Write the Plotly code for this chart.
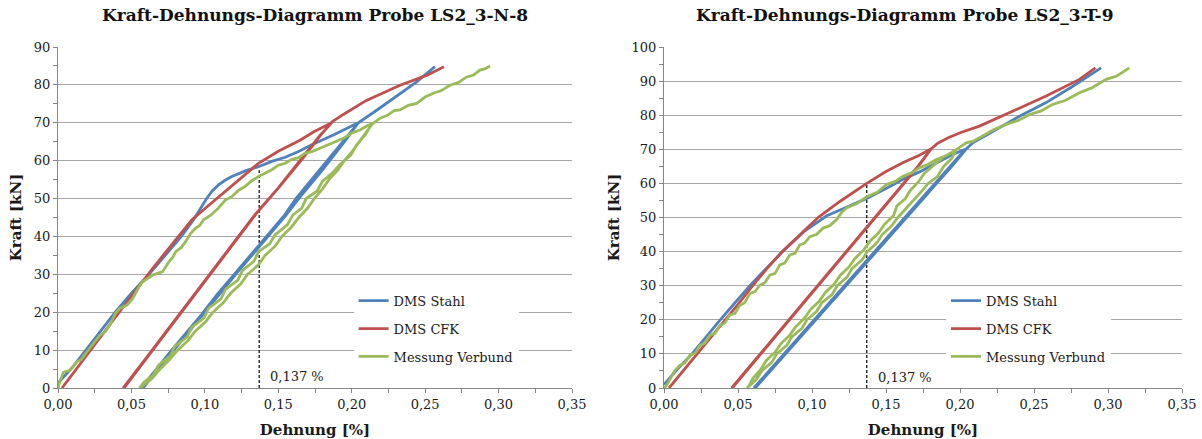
import plotly.graph_objects as go

# ---------------- Probe LS2_3-N-8 ----------------
# each series: first loading, unloading, reloading and further loading
n8_stahl_x = [0.000, 0.010, 0.019, 0.029, 0.039, 0.050, 0.062, 0.073, 0.084, 0.0923, 0.097, 0.101, 0.105,
              0.1093, 0.114, 0.1184, 0.1275, 0.1365, 0.1456, 0.1547, 0.1638, 0.1728, 0.1875, 0.2045,
              0.194, 0.178, 0.162, 0.1544, 0.141, 0.130, 0.120, 0.108, 0.098, 0.087, 0.077, 0.067, 0.0566,
              0.0585, 0.069, 0.079, 0.089, 0.100, 0.110, 0.121, 0.132, 0.143, 0.155, 0.165, 0.180, 0.196,
              0.2045, 0.217, 0.2329, 0.2442, 0.2567]
n8_stahl_y = [1.3, 5.5, 10.0, 15.0, 20.0, 25.0, 30.0, 35.0, 40.0, 44.4, 47.4, 49.9, 52.0,
              53.6, 54.9, 55.8, 57.3, 58.4, 59.8, 60.9, 62.4, 64.2, 66.8, 70.0,
              65.0, 57.5, 50.0, 45.7, 39.5, 34.5, 30.0, 24.5, 19.5, 14.5, 9.8, 5.0, 0.0,
              0.3, 5.3, 10.0, 15.0, 20.0, 25.0, 30.0, 35.0, 40.0, 45.5, 50.5, 57.5, 65.5,
              70.0, 73.3, 77.7, 80.8, 84.8]

n8_cfk_x = [0.0027, 0.011, 0.0196, 0.031, 0.042, 0.053, 0.0645, 0.0735, 0.0825, 0.0912, 0.1005, 0.108,
            0.1185, 0.128, 0.1365, 0.150, 0.1648, 0.1745, 0.1864,
            0.178, 0.165, 0.150, 0.134, 0.120, 0.105, 0.090, 0.075, 0.060, 0.0443,
            0.0455, 0.061, 0.076, 0.091, 0.106, 0.121, 0.135, 0.151, 0.166, 0.179, 0.1864,
            0.1943, 0.210, 0.2329, 0.251, 0.2628]
n8_cfk_y = [0.0, 4.3, 8.6, 14.5, 20.1, 25.8, 31.6, 36.0, 40.4, 44.4, 47.5, 50.0,
            53.5, 56.5, 59.3, 62.5, 65.4, 67.7, 70.0,
            66.5, 60.0, 52.8, 45.7, 38.5, 30.8, 23.2, 15.5, 7.9, 0.0,
            0.3, 8.2, 15.8, 23.5, 31.0, 38.8, 46.0, 53.2, 60.3, 66.8, 70.2,
            72.2, 75.9, 79.9, 82.5, 84.8]

n8_verbund_x = [0.000, 0.0015, 0.0038, 0.008, 0.0128, 0.016, 0.0196, 0.024, 0.0285, 0.032, 0.0353, 0.039,
                0.042, 0.047, 0.051, 0.055, 0.0578, 0.0645, 0.0712, 0.0757, 0.078, 0.0802, 0.084, 0.087,
                0.090, 0.0937, 0.0965, 0.0991, 0.104, 0.1093, 0.114, 0.1184, 0.123, 0.1275, 0.132, 0.1365,
                0.141, 0.1456, 0.150, 0.1547, 0.159, 0.1638, 0.168, 0.1728, 0.178, 0.186, 0.1943, 0.200,
                0.2056, 0.210, 0.2136,
                0.2095, 0.2030, 0.1995, 0.1920, 0.1875, 0.1800, 0.1765, 0.1690, 0.1660, 0.1600, 0.1560,
                0.1480, 0.1440, 0.1365, 0.1335, 0.1255, 0.1225, 0.1140, 0.1110, 0.1025, 0.0995, 0.0910,
                0.0880, 0.0795, 0.0765, 0.0685, 0.0650, 0.0585, 0.0555,
                0.0565, 0.0640, 0.0695, 0.0760, 0.0815, 0.0885, 0.0935, 0.1005, 0.1055, 0.1125, 0.1175,
                0.1245, 0.1290, 0.1365, 0.1410, 0.1480, 0.1525, 0.1590, 0.1640, 0.1700, 0.1745, 0.1800,
                0.1845, 0.1905, 0.1950, 0.2005, 0.2050, 0.2100, 0.2140,
                0.2193, 0.2240, 0.2290, 0.2329, 0.2385, 0.2442, 0.2500, 0.2556, 0.2610, 0.2669, 0.2725,
                0.2783, 0.2830, 0.2873, 0.2910, 0.2942]
n8_verbund_y = [0.0, 2.0, 4.2, 4.6, 6.9, 7.6, 9.5, 11.6, 13.9, 14.8, 16.6, 19.6,
                21.0, 21.9, 23.7, 26.6, 28.1, 29.8, 30.7, 33.4, 34.4, 36.0, 37.1, 38.7,
                40.6, 42.2, 42.9, 44.4, 45.6, 47.5, 49.6, 50.5, 52.2, 53.2, 54.7, 55.8,
                56.6, 57.6, 58.8, 59.3, 60.3, 60.8, 61.9, 62.4, 63.2, 64.6, 65.9, 67.3,
                68.1, 69.1, 69.7,
                67.0, 64.0, 61.5, 59.0, 57.0, 54.5, 52.0, 50.0, 47.5, 45.7, 43.0,
                40.5, 38.0, 36.0, 33.5, 31.0, 28.5, 26.0, 23.5, 21.0, 18.5, 16.0,
                13.5, 11.0, 8.5, 6.0, 3.5, 1.5, 0.0,
                0.2, 2.5, 5.0, 7.5, 10.0, 12.5, 15.0, 17.5, 20.0, 22.5, 25.0,
                27.5, 30.0, 32.5, 35.0, 37.5, 40.0, 42.5, 45.0, 47.5, 50.0, 52.5,
                55.0, 57.5, 60.0, 62.5, 65.0, 67.5, 69.7,
                71.2, 71.9, 73.2, 73.4, 74.6, 75.1, 76.8, 77.8, 78.5, 79.9, 80.6,
                82.1, 82.6, 83.9, 84.3, 85.0]

# ---------------- Probe LS2_3-T-9 ----------------
t9_stahl_x = [0.000, 0.009, 0.019, 0.028, 0.038, 0.048, 0.058, 0.069, 0.080, 0.095, 0.110, 0.1233,
              0.137, 0.1503, 0.1615, 0.1723, 0.1862, 0.1950, 0.2036,
              0.193, 0.183, 0.173, 0.1627, 0.1525, 0.1423, 0.132, 0.122, 0.1117, 0.1015, 0.0913,
              0.081, 0.0709, 0.0607,
              0.0622, 0.0724, 0.0826, 0.0928, 0.1030, 0.1132, 0.1235, 0.1335, 0.1438, 0.1540, 0.1642,
              0.1745, 0.1845, 0.1945, 0.2040,
              0.2087, 0.2245, 0.2402, 0.2582, 0.2762, 0.2953]
t9_stahl_y = [1.0, 5.5, 10.0, 14.8, 20.0, 25.0, 30.0, 35.0, 40.0, 46.0, 50.5, 53.0,
              55.6, 58.6, 61.2, 63.3, 66.6, 68.5, 70.0,
              64.8, 60.0, 55.0, 50.0, 45.0, 40.0, 35.0, 30.0, 25.0, 20.0, 15.0,
              10.0, 5.0, 0.0,
              0.3, 5.2, 10.2, 15.2, 20.2, 25.2, 30.2, 35.2, 40.2, 45.2, 50.2,
              55.2, 60.2, 65.0, 70.0,
              71.9, 75.8, 79.7, 83.7, 88.5, 93.9]

t9_cfk_x = [0.0034, 0.012, 0.0215, 0.031, 0.0405, 0.050, 0.059, 0.0695, 0.080, 0.092, 0.1041, 0.1188,
            0.1323, 0.137, 0.150, 0.162, 0.1723, 0.1806,
            0.1715, 0.1618, 0.152, 0.1423, 0.1326, 0.1229, 0.1132, 0.1035, 0.0938, 0.0841, 0.0745,
            0.0648, 0.0551, 0.0457,
            0.0467, 0.0562, 0.0658, 0.0755, 0.0852, 0.0948, 0.1045, 0.1142, 0.1238, 0.1335, 0.1432,
            0.1530, 0.1626, 0.1722, 0.1806,
            0.1850, 0.1920, 0.2010, 0.2132, 0.2357, 0.2582, 0.2807, 0.2915]
t9_cfk_y = [0.0, 4.5, 9.5, 14.5, 19.5, 24.5, 29.5, 35.0, 40.0, 45.0, 50.0, 54.7,
            58.7, 60.0, 63.5, 66.2, 68.2, 70.2,
            65.0, 60.0, 55.0, 50.0, 45.0, 40.0, 35.0, 30.0, 25.0, 20.0, 15.0,
            10.0, 5.0, 0.0,
            0.3, 5.2, 10.2, 15.2, 20.2, 25.2, 30.2, 35.2, 40.2, 45.2, 50.2,
            55.2, 60.2, 65.2, 70.2,
            71.8, 73.4, 75.0, 76.8, 81.2, 85.6, 90.5, 93.9]

t9_verbund_x = [0.000, 0.0018, 0.0074, 0.0108, 0.0140, 0.0175, 0.0210, 0.0243, 0.0275, 0.031, 0.0345,
                0.0378, 0.0410, 0.0445, 0.0480, 0.0513, 0.0545, 0.058, 0.0615, 0.0648, 0.0680, 0.0715,
                0.0750, 0.0783, 0.0815, 0.085, 0.0885, 0.0918, 0.0950, 0.0985, 0.1030, 0.1075, 0.1120,
                0.1165, 0.1200, 0.1233, 0.1300, 0.137, 0.1440, 0.1503, 0.1560, 0.1615, 0.1670, 0.1723,
                0.1780, 0.184, 0.1910, 0.1975,
                0.1942, 0.1890, 0.1847, 0.1785, 0.1737, 0.1685, 0.1637, 0.1580, 0.1537, 0.1475, 0.1437,
                0.1373, 0.1337, 0.1270, 0.1237, 0.1170, 0.1137, 0.1067, 0.1032, 0.0965, 0.0932, 0.0863,
                0.0830, 0.0761, 0.0728, 0.0660, 0.0624, 0.0560,
                0.0570, 0.0600, 0.0655, 0.0690, 0.0750, 0.0790, 0.0850, 0.0890, 0.0950, 0.0990, 0.1050,
                0.1090, 0.1150, 0.1190, 0.1250, 0.1290, 0.1350, 0.1390, 0.1450, 0.1490, 0.1550, 0.1575,
                0.1630, 0.1665, 0.1720, 0.1760, 0.1830, 0.1880, 0.1975,
                0.2042, 0.2090, 0.2132, 0.2220, 0.2312, 0.2390, 0.2470, 0.2545, 0.2627, 0.2710, 0.2807,
                0.2890, 0.2987, 0.3060, 0.3144]
t9_verbund_y = [0.0, 0.8, 5.2, 6.7, 7.3, 9.6, 10.2, 12.5, 13.1, 15.5, 16.0,
                18.4, 19.0, 21.4, 21.9, 24.3, 25.0, 27.7, 28.3, 30.2, 30.8, 33.1,
                33.6, 36.1, 36.6, 39.0, 39.5, 42.0, 42.5, 44.4, 45.0, 46.9, 47.6,
                49.3, 51.5, 52.8, 54.0, 56.1, 57.4, 59.7, 60.5, 62.1, 63.0, 64.5,
                65.5, 67.0, 68.2, 69.9,
                67.2, 65.0, 62.0, 60.0, 57.5, 55.0, 52.5, 50.0, 47.5, 45.0, 42.5,
                40.0, 37.5, 35.0, 32.5, 30.0, 27.5, 25.0, 22.5, 20.0, 17.5, 15.0,
                12.5, 10.0, 7.5, 5.0, 2.5, 0.0,
                0.3, 2.8, 5.5, 8.0, 10.5, 13.0, 15.5, 18.0, 20.5, 23.0, 25.5,
                28.0, 30.5, 33.0, 35.5, 38.0, 40.5, 43.0, 45.5, 48.0, 50.5, 53.5,
                55.5, 58.0, 60.5, 63.0, 65.5, 67.5, 69.9,
                71.9, 72.4, 73.4, 75.6, 77.3, 78.4, 80.2, 81.2, 83.2, 84.3, 86.6,
                88.0, 90.5, 91.5, 93.9]

# reference strain marker
marker_strain = 0.137
n8_marker_top = 57.5
t9_marker_top = 60.0

series_names = ["DMS Stahl", "DMS CFK", "Messung Verbund"]
series_colors = ["#4F81BD", "#C0504D", "#9BBB59"]

titles = ["Kraft-Dehnungs-Diagramm Probe LS2_3-N-8", "Kraft-Dehnungs-Diagramm Probe LS2_3-T-9"]
x_title = "Dehnung [%]"
y_title = "Kraft [kN]"
n8_y_max = 90
t9_y_max = 100
x_max = 0.35

SERIF = "DejaVu Serif"
TEXT = "#1a1a1a"

fig = go.Figure()

panels = [
    ("x", "y", "legend", [(n8_stahl_x, n8_stahl_y), (n8_cfk_x, n8_cfk_y), (n8_verbund_x, n8_verbund_y)],
     n8_marker_top),
    ("x2", "y2", "legend2", [(t9_stahl_x, t9_stahl_y), (t9_cfk_x, t9_cfk_y), (t9_verbund_x, t9_verbund_y)],
     t9_marker_top),
]

marker_label = f"{marker_strain:.3f}".replace(".", ",") + " %"

for xa, ya, leg, data, mtop in panels:
    fig.add_trace(go.Scatter(
        x=[marker_strain, marker_strain], y=[0, mtop], mode="lines",
        line=dict(color="black", width=1.2, dash="3px,2px"),
        xaxis=xa, yaxis=ya, showlegend=False, hoverinfo="skip"))
    for (sx, sy), name, col in zip(data, series_names, series_colors):
        fig.add_trace(go.Scatter(
            x=sx, y=sy, mode="lines", name=name,
            line=dict(color=col, width=2.8),
            xaxis=xa, yaxis=ya, legend=leg, legendgroup=leg + name))
    fig.add_annotation(
        x=marker_strain + 0.006, y=3, xref=xa, yref=ya, text=marker_label,
        showarrow=False, xanchor="left", yanchor="middle",
        font=dict(family=SERIF, size=13, color=TEXT))

axis_common = dict(
    showline=True, linecolor="#868686", linewidth=1,
    ticks="outside", tickcolor="#868686", ticklen=4,
    tickfont=dict(family=SERIF, size=13, color=TEXT),
    zeroline=False, automargin=False,
)
x_minor = dict(ticks="outside", dtick=0.025, ticklen=4, tickcolor="#868686")
y_minor = dict(ticks="outside", dtick=5, ticklen=4, tickcolor="#868686")
x_title_cfg = dict(text=f"<b>{x_title}</b>", font=dict(family=SERIF, size=15, color=TEXT), standoff=14)
y_title_cfg = dict(text=f"<b>{y_title}</b>", font=dict(family=SERIF, size=15, color=TEXT), standoff=8)
legend_cfg = dict(xanchor="left", yanchor="top", bgcolor="white",
                  font=dict(family=SERIF, size=13, color=TEXT), itemwidth=30, tracegroupgap=8,
                  traceorder="grouped")

fig.update_layout(
    width=1202, height=439,
    margin=dict(l=58, r=20, t=47, b=51),
    paper_bgcolor="white", plot_bgcolor="white",
    separators=",.",
    showlegend=True,
    xaxis=dict(domain=[0, 514 / 1124], range=[0, x_max], dtick=0.05, tickformat=".2f",
               showgrid=False, minor=x_minor, title=x_title_cfg, **axis_common),
    xaxis2=dict(domain=[606 / 1124, 1.0], range=[0, x_max], dtick=0.05, tickformat=".2f",
                showgrid=False, minor=x_minor, title=x_title_cfg, anchor="y2", **axis_common),
    yaxis=dict(domain=[0, 1], range=[0, n8_y_max], dtick=10, showgrid=True, gridcolor="#A6A6A6",
               gridwidth=1, minor=y_minor, title=y_title_cfg, **axis_common),
    yaxis2=dict(domain=[0, 1], range=[0, t9_y_max], dtick=10, showgrid=True, gridcolor="#A6A6A6",
                gridwidth=1, minor=y_minor, title=y_title_cfg, anchor="x2", **axis_common),
    legend=dict(x=0.263, y=0.30, **legend_cfg),
    legend2=dict(x=0.790, y=0.30, **legend_cfg),
)

for i, t in enumerate(titles):
    fig.add_annotation(
        x=[257 / 1124, 847 / 1124][i], y=1 + 32 / 341, xref="paper", yref="paper",
        text=f"<b>{t}</b>", showarrow=False, xanchor="center", yanchor="middle",
        font=dict(family=SERIF, size=17, color="#111"))

fig.write_html("out.html")
